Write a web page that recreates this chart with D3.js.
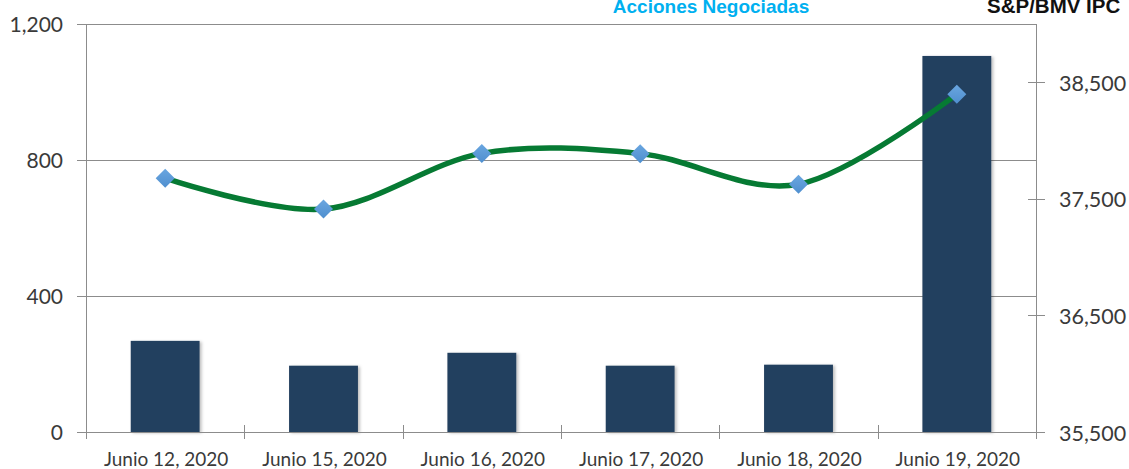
<!DOCTYPE html>
<html>
<head>
    <meta charset="utf-8">
    <title></title>
    <style>
        body { margin: 0; background: #fff; }
        svg { display: block; }
        .lbl { font-family: Lato, sans-serif; fill: #3a3a3a; }
        .ttl { font-family: "Liberation Sans", Arial, sans-serif; font-weight: bold; }
    </style>
</head>
<body>
<svg id="chart" width="1129" height="469"></svg>
<script src="https://cdn.jsdelivr.net/npm/d3@7"></script>
<script>
    // data
    var fechas = ["Junio 12, 2020", "Junio 15, 2020", "Junio 16, 2020", "Junio 17, 2020", "Junio 18, 2020", "Junio 19, 2020"];
    var acciones = [268, 195, 233, 195, 198, 1106];
    var ipc = [37677, 37412, 37890, 37888, 37625, 38398];
    var ticksIzq = [0, 400, 800, 1200];
    var ticksDer = [35500, 36500, 37500, 38500];

    var svg = d3.select("#chart");
    // plot area bounds (note: "top" is reserved on window)
    var pL = 86, pR = 1036, pT = 24, pB = 432;
    var gris = "#8c8c8c";

    var x = d3.scaleBand().domain(fechas).range([pL, pR]).paddingInner(0).paddingOuter(0);
    var yL = d3.scaleLinear().domain([0, 1200]).range([pB, pT]);
    var yR = d3.scaleLinear().domain([35500, 39000]).range([pB, pT]);

    // sombra de barras
    var defs = svg.append("defs");
    var f = defs.append("filter").attr("id", "sombra").attr("x", "-20%").attr("y", "-20%").attr("width", "140%").attr("height", "140%");
    f.append("feDropShadow").attr("dx", 2).attr("dy", 1).attr("stdDeviation", 1.5).attr("flood-color", "#000").attr("flood-opacity", 0.25);

    // gridlines (left axis)
    svg.selectAll("line.grid").data(ticksIzq.filter(function (d) { return d > 0; }))
        .enter().append("line")
        .attr("x1", pL).attr("x2", pR)
        .attr("y1", function (d) { return yL(d) + 0.5; }).attr("y2", function (d) { return yL(d) + 0.5; })
        .attr("stroke", gris).attr("stroke-width", 1);

    // bars
    var bw = x.bandwidth() * 0.435;
    svg.selectAll("rect.bar").data(acciones)
        .enter().append("rect")
        .attr("x", function (d, i) { return x(fechas[i]) + (x.bandwidth() - bw) / 2; })
        .attr("y", function (d) { return yL(d); })
        .attr("width", bw)
        .attr("height", function (d) { return pB - yL(d); })
        .attr("fill", "#243f5f")
        .attr("filter", "url(#sombra)");

    // axes lines
    svg.append("line").attr("x1", pL + 0.5).attr("x2", pL + 0.5).attr("y1", pT).attr("y2", pB + 7).attr("stroke", gris);
    svg.append("line").attr("x1", pR + 0.5).attr("x2", pR + 0.5).attr("y1", pT).attr("y2", pB + 7).attr("stroke", gris);
    svg.append("line").attr("x1", pL).attr("x2", pR + 9).attr("y1", pB + 0.5).attr("y2", pB + 0.5).attr("stroke", gris);

    // left ticks + labels
    var gl = svg.append("g");
    gl.selectAll("line").data(ticksIzq).enter().append("line")
        .attr("x1", pL - 9).attr("x2", pL)
        .attr("y1", function (d) { return yL(d) + 0.5; }).attr("y2", function (d) { return yL(d) + 0.5; })
        .attr("stroke", gris);
    gl.selectAll("text").data(ticksIzq).enter().append("text")
        .attr("class", "lbl")
        .attr("x", 63).attr("y", function (d) { return yL(d) + 1; })
        .attr("dy", "0.35em").attr("text-anchor", "end")
        .style("font-size", "21px")
        .text(function (d) { return d3.format(",")(d); });

    // right ticks + labels
    var gr = svg.append("g");
    gr.selectAll("line").data(ticksDer).enter().append("line")
        .attr("x1", pR - 8).attr("x2", pR + 9)
        .attr("y1", function (d) { return Math.round(yR(d)) + 0.5; }).attr("y2", function (d) { return Math.round(yR(d)) + 0.5; })
        .attr("stroke", gris);
    gr.selectAll("text").data(ticksDer).enter().append("text")
        .attr("class", "lbl")
        .attr("x", 1059).attr("y", function (d) { return yR(d) + 1; })
        .attr("dy", "0.35em")
        .style("font-size", "21.5px")
        .text(function (d) { return d3.format(",")(d); });

    // x ticks at category boundaries
    var limites = fechas.map(function (d) { return x(d); }).concat([pR]);
    svg.selectAll("line.xt").data(limites).enter().append("line")
        .attr("x1", function (d) { return Math.round(d) + 0.5; }).attr("x2", function (d) { return Math.round(d) + 0.5; })
        .attr("y1", pB - 7).attr("y2", pB + 7)
        .attr("stroke", gris);
    svg.selectAll("text.xl").data(fechas).enter().append("text")
        .attr("class", "lbl")
        .attr("x", function (d) { return x(d) + x.bandwidth() / 2 + 1; })
        .attr("y", 466)
        .attr("text-anchor", "middle")
        .style("font-size", "19px")
        .text(function (d) { return d; });

    // line IPC
    var linea = d3.line()
        .x(function (d, i) { return x(fechas[i]) + x.bandwidth() / 2; })
        .y(function (d) { return yR(d); })
        .curve(d3.curveCardinal.tension(0));
    svg.append("path").datum(ipc)
        .attr("d", linea)
        .attr("fill", "none")
        .attr("stroke", "#067a33")
        .attr("stroke-width", 5.5);

    // diamonds
    var grad = defs.append("linearGradient").attr("id", "diam").attr("x1", 0).attr("y1", 0).attr("x2", 0).attr("y2", 1);
    grad.append("stop").attr("offset", "0%").attr("stop-color", "#6aa6e0");
    grad.append("stop").attr("offset", "100%").attr("stop-color", "#4f8fcf");
    svg.selectAll("path.mk").data(ipc).enter().append("path")
        .attr("transform", function (d, i) { return "translate(" + (x(fechas[i]) + x.bandwidth() / 2) + "," + yR(d) + ")"; })
        .attr("d", "M0,-9.5L9.5,0L0,9.5L-9.5,0Z")
        .attr("fill", "url(#diam)");

    // titles (cut at the top edge, as in the original)
    svg.append("text").attr("class", "ttl")
        .attr("x", 711).attr("y", 12.5).attr("text-anchor", "middle")
        .style("font-size", "19px").attr("fill", "#00b0f0")
        .text("Acciones Negociadas");
    svg.append("text").attr("class", "ttl")
        .attr("x", 987).attr("y", 12.5)
        .style("font-size", "20.5px").attr("fill", "#111")
        .text("S&P/BMV IPC");
</script>
</body>
</html>
